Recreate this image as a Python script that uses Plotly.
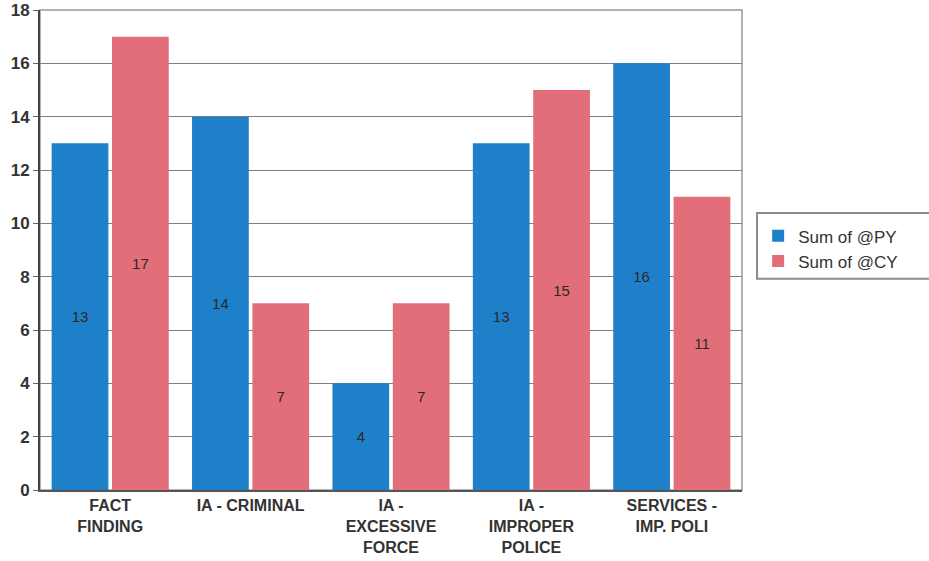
import plotly.graph_objects as go

categories = ["FACT<br>FINDING", "IA - CRIMINAL", "IA -<br>EXCESSIVE<br>FORCE",
              "IA -<br>IMPROPER<br>POLICE", "SERVICES -<br>IMP. POLI"]
py_values = [13, 14, 4, 13, 16]
cy_values = [17, 7, 7, 15, 11]
y_ticks = [0, 2, 4, 6, 8, 10, 12, 14, 16, 18]

blue = "#1d80c9"
pink = "#e16e79"
font_family = "Liberation Sans, Arial, sans-serif"
label_font = dict(family=font_family, size=15, color="#2a2a2a")

fig = go.Figure()
fig.add_trace(go.Bar(
    name="Sum of @PY", x=categories, y=py_values, marker_color=blue,
    marker_line_width=0,
    text=py_values, textposition="inside", insidetextanchor="middle",
    textfont=label_font,
))
fig.add_trace(go.Bar(
    name="Sum of @CY", x=categories, y=cy_values, marker_color=pink,
    marker_line_width=0,
    text=cy_values, textposition="inside", insidetextanchor="middle",
    textfont=label_font,
))

fig.update_layout(
    width=929, height=561,
    margin=dict(l=40, r=187, t=10, b=71),
    paper_bgcolor="white", plot_bgcolor="white",
    barmode="group", bargap=0.14, bargroupgap=0.06,
    uniformtext=dict(minsize=15, mode="show"),
    font=dict(family=font_family, size=16, color="#333333"),
    legend=dict(
        x=1.023, y=0.566, xanchor="left", yanchor="top",
        borderwidth=0, bgcolor="rgba(0,0,0,0)",
        font=dict(family=font_family, size=17, color="#333333"),
        itemsizing="constant", tracegroupgap=0,
        itemwidth=30,
    ),
    showlegend=True,
)
fig.update_xaxes(
    showline=True, linecolor="#555555", linewidth=1.5, mirror=False,
    tickfont=dict(family=font_family, size=16, color="#333333", weight="bold"),
    ticks="", showgrid=False, automargin=False,
)
fig.update_yaxes(
    range=[0, 18], tickvals=y_ticks,
    showline=True, linecolor="#444444", linewidth=2,
    gridcolor="#808080", gridwidth=1.2,
    ticks="outside", ticklen=5, tickcolor="#666666",
    tickfont=dict(family=font_family, size=17, color="#333333", weight="bold"),
    zeroline=False, automargin=False,
)
# Top and right frame of the plot area
fig.add_shape(type="rect", xref="paper", yref="paper", x0=0, y0=0, x1=1, y1=1,
              line=dict(color="#999999", width=1.5), layer="below")
# Legend frame, running off the right edge of the page
fig.add_shape(type="rect", xref="paper", yref="paper",
              x0=1.0214, y0=0.44, x1=1.28, y1=0.577,
              line=dict(color="#8c8c8c", width=2), fillcolor="white", layer="below")

fig.write_html("out.html")
